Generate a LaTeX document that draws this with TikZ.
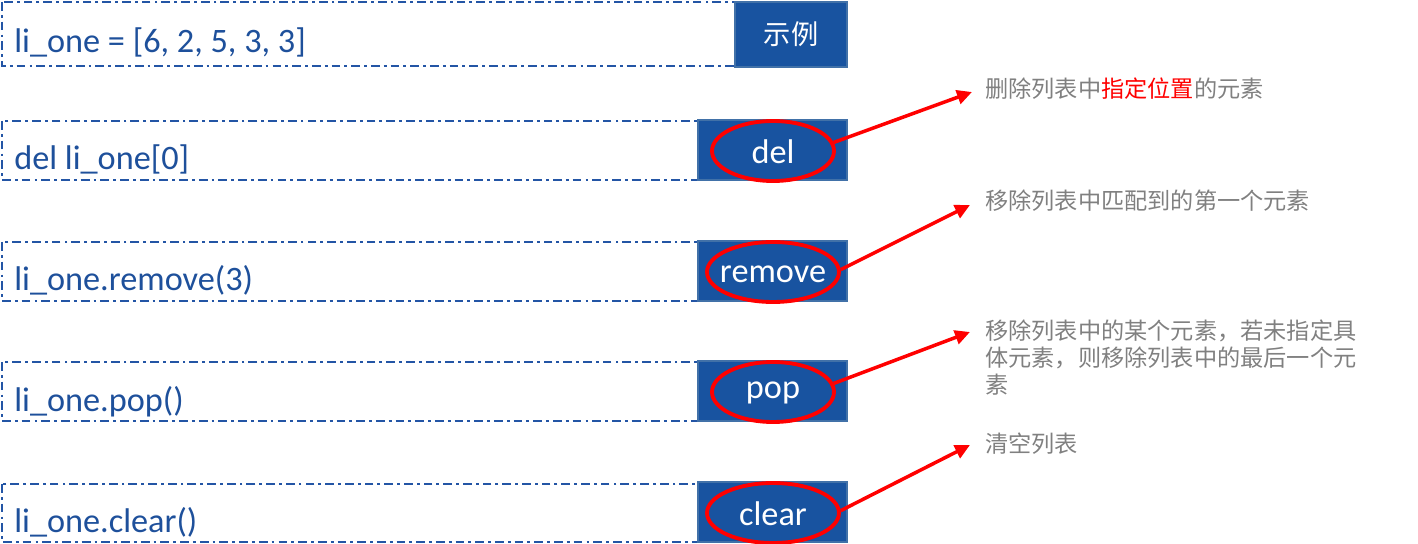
\documentclass[tikz,border=0pt]{standalone}
\usepackage{fontspec}
\setmainfont{Carlito}
\newfontfamily\cjk{Noto Sans CJK SC}
\usetikzlibrary{arrows.meta,shapes.geometric}
\definecolor{boxblue}{RGB}{24,83,160}
\definecolor{boxedge}{RGB}{65,113,168}
\definecolor{dashblue}{RGB}{35,85,165}
\definecolor{codeblue}{RGB}{30,80,155}
\definecolor{descgray}{RGB}{128,128,128}
\definecolor{hired}{RGB}{255,0,0}
\tikzset{
  codebox/.style={draw=dashblue, line width=1.3pt, dash pattern=on 5pt off 2.3pt on 1.6pt off 2.3pt},
  codetext/.style={anchor=base west, inner sep=0pt, text=codeblue, font=\fontsize{19.5pt}{22pt}\selectfont},
  keybox/.style={draw=boxedge, fill=boxblue, line width=1pt},
  keytext/.style={inner sep=0pt, text=white, font=\fontsize{19.5pt}{22pt}\selectfont},
  ring/.style={draw=hired, line width=2.2pt, shape=ellipse, inner sep=0pt, minimum height=1.2cm},
  callout/.style={draw=hired, line width=2pt, -{Triangle[length=8.5pt,width=8pt]}},
  desc/.style={anchor=base west, inner sep=0pt, text=descgray, align=left, text width=7.6cm,
    font=\cjk\fontsize{13.2pt}{15.6pt}\selectfont},
}
\begin{document}
\begin{tikzpicture}[x=0.02cm,y=-0.02cm]
\useasboundingbox (0,0) rectangle (1418,544);
% row 1
\draw[codebox] (2,2) rectangle (760,66);
\draw[keybox] (735,2) rectangle (847,67);
\node[codetext] (c1) at (14,53) {li\_one = [6, 2, 5, 3, 3]};
\node[keytext, font=\cjk\fontsize{15.5pt}{18pt}\selectfont] (k1) at (791,34) {示例};
% row 2
\draw[codebox] (2,121) rectangle (720,180);
\draw[keybox] (698,120) rectangle (847,180);
\node[codetext] (c2) at (14,170) {del li\_one[0]};
\node[keytext] (k2) at (773,152) {del};
\node[ring, minimum width=2.44cm] (r2) at (773,151) {};
% row 3
\draw[codebox] (2,242) rectangle (720,301);
\draw[keybox] (698,241) rectangle (847,301);
\node[codetext] (c3) at (14,291) {li\_one.remove(3)};
\node[keytext] (k3) at (773,274) {remove};
\node[ring, minimum width=2.64cm] (r3) at (773,272) {};
% row 4
\draw[codebox] (2,362) rectangle (720,421);
\draw[keybox] (698,361) rectangle (847,421);
\node[codetext] (c4) at (14,411) {li\_one.pop()};
\node[keytext] (k4) at (773,393) {pop};
\node[ring, minimum width=2.44cm] (r4) at (773,392) {};
% row 5
\draw[codebox] (2,484) rectangle (720,542);
\draw[keybox] (698,482) rectangle (847,542);
\node[codetext] (c5) at (14,532) {li\_one.clear()};
\node[keytext] (k5) at (773,514) {clear};
\node[ring, minimum width=2.64cm] (r5) at (773,513) {};
% descriptions
\node[desc] (d2) at (985,98) {删除列表中\textcolor{hired}{指定位置}的元素};
\node[desc] (d3) at (985,210) {移除列表中匹配到的第一个元素};
\node[desc] (d4) at (985,339) {移除列表中的某个元素，若未指定具\\体元素，则移除列表中的最后一个元\\素};
\node[desc] (d5) at (985,452) {清空列表};
% arrows
\coordinate (t2) at (972,92);
\coordinate (t3) at (970,205);
\coordinate (t4) at (970,332);
\coordinate (t5) at (970,445);
\draw[callout] (r2.8) -- (t2);
\draw[callout] (r3.2) -- (t3);
\draw[callout] (r4.8) -- (t4);
\draw[callout] (r5.2) -- (t5);
\end{tikzpicture}
\end{document}
